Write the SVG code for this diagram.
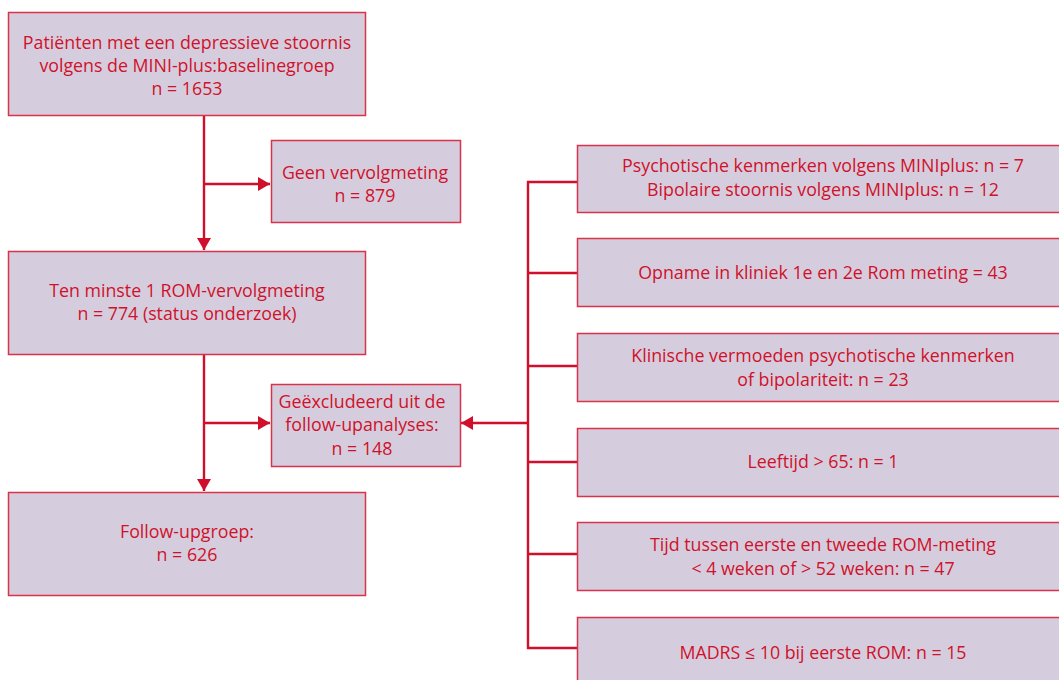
<svg xmlns="http://www.w3.org/2000/svg" width="1059" height="680" viewBox="0 0 1059 680">
<style>
.box{fill:#d5cddd;stroke:#d9334b;stroke-width:1.5}
.t{font-family:"Open Sans","Noto Sans",sans-serif;font-size:17.8px;fill:#d0112b;text-anchor:middle}
.c{stroke:#cf0f2b;stroke-width:2.4;fill:none}
</style>
<defs>
<marker id="ah" markerWidth="12" markerHeight="14" refX="12" refY="7" orient="auto" markerUnits="userSpaceOnUse">
<path d="M0,0 L12,7 L0,14 Z" fill="#cf0f2b"/>
</marker>
</defs>
<g id="connectors">
<path class="c" d="M204,116 V250" marker-end="url(#ah)"/>
<path class="c" d="M204,184 H270" marker-end="url(#ah)"/>
<path class="c" d="M204,355 V491" marker-end="url(#ah)"/>
<path class="c" d="M204,423 H270" marker-end="url(#ah)"/>
<path class="c" d="M528,181 V649"/>
<path class="c" d="M528,423 H461" marker-end="url(#ah)"/>
<path class="c" d="M527,182 H577"/>
<path class="c" d="M527,273 H577"/>
<path class="c" d="M527,366 H577"/>
<path class="c" d="M527,462 H577"/>
<path class="c" d="M527,554 H577"/>
<path class="c" d="M527,648 H577"/>
</g>
<g id="n1"><rect class="box" x="8.5" y="12.5" width="357" height="103"/>
<text class="t" x="187" y="49">Patiënten met een depressieve stoornis</text>
<text class="t" x="187" y="72">volgens de MINI-plus:baselinegroep</text>
<text class="t" x="187" y="95">n = 1653</text></g>
<g id="n2"><rect class="box" x="271.5" y="140.5" width="189" height="82"/>
<text class="t" x="365" y="179">Geen vervolgmeting</text>
<text class="t" x="365" y="202">n = 879</text></g>
<g id="n3"><rect class="box" x="8.5" y="251.5" width="357" height="103"/>
<text class="t" x="187" y="297">Ten minste 1 ROM-vervolgmeting</text>
<text class="t" x="187" y="320">n = 774 (status onderzoek)</text></g>
<g id="n4"><rect class="box" x="271.5" y="384.5" width="189" height="82"/>
<text class="t" x="362" y="408">Geëxcludeerd uit de</text>
<text class="t" x="362" y="431">follow-upanalyses:</text>
<text class="t" x="362" y="455">n = 148</text></g>
<g id="n5"><rect class="box" x="8.5" y="492.5" width="357" height="103"/>
<text class="t" x="187" y="538">Follow-upgroep:</text>
<text class="t" x="187" y="561">n = 626</text></g>
<g id="r1"><rect class="box" x="577.5" y="145.5" width="490" height="67"/>
<text class="t" x="823" y="172">Psychotische kenmerken volgens MINIplus: n = 7</text>
<text class="t" x="823" y="196">Bipolaire stoornis volgens MINIplus: n = 12</text></g>
<g id="r2"><rect class="box" x="577.5" y="238.5" width="490" height="68"/>
<text class="t" x="823" y="279">Opname in kliniek 1e en 2e Rom meting = 43</text></g>
<g id="r3"><rect class="box" x="577.5" y="333.5" width="490" height="68"/>
<text class="t" x="823" y="362">Klinische vermoeden psychotische kenmerken</text>
<text class="t" x="823" y="386">of bipolariteit: n = 23</text></g>
<g id="r4"><rect class="box" x="577.5" y="428.5" width="490" height="68"/>
<text class="t" x="823" y="468">Leeftijd &gt; 65: n = 1</text></g>
<g id="r5"><rect class="box" x="577.5" y="522.5" width="490" height="68"/>
<text class="t" x="823" y="551">Tijd tussen eerste en tweede ROM-meting</text>
<text class="t" x="823" y="575">&lt; 4 weken of &gt; 52 weken: n = 47</text></g>
<g id="r6"><rect class="box" x="577.5" y="617.5" width="490" height="70"/>
<text class="t" x="823" y="659">MADRS ≤ 10 bij eerste ROM: n = 15</text></g>
</svg>
